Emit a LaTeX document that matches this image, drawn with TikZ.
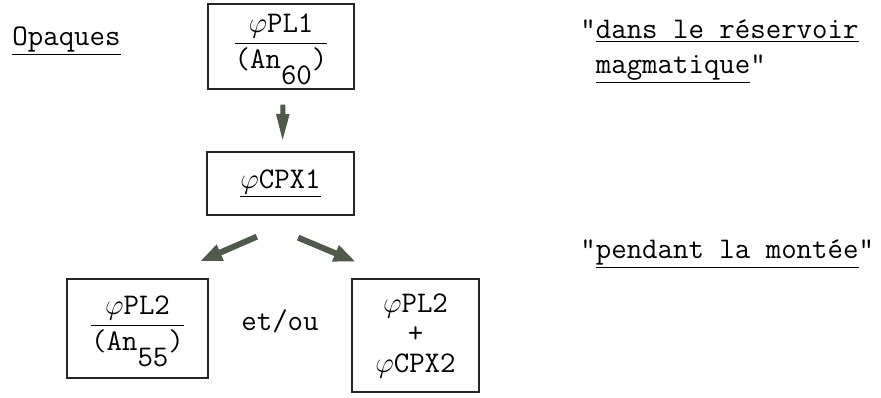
\documentclass[tikz,border=0pt]{standalone}
\usetikzlibrary{arrows.meta}
\definecolor{fgreen}{HTML}{4E5B4A}
\newcommand{\phii}{$\varphi$}

\begin{document}
\begin{tikzpicture}[
    x=0.5pt, y=-0.5pt,
    font=\ttfamily\fontsize{15}{17.5}\selectfont,
    boite/.style={draw=black!85, line width=1pt, inner sep=2pt},
    fleche/.style={draw=fgreen, line width=3pt,
                   -{Triangle[width=8pt,length=11pt]}},
    flechev/.style={draw=fgreen, line width=2.5pt,
                    -{Triangle[width=6pt,length=14pt]}},
    txt/.style={anchor=base west, inner sep=0pt}
]
\useasboundingbox (0,0) rectangle (881,397);

% ---------- boxes ----------
\node[boite, minimum width=73pt, minimum height=41.5pt] (pl1) at (281,46.5)
  {\begin{tabular}{@{}c@{}}\phii PL1\\\hline (An\raisebox{-1.2ex}{60})\end{tabular}};
\node[boite, minimum width=73.5pt, minimum height=31.5pt] (cpx1) at (280.5,183.5)
  {\underline{\phii CPX1}};
\node[boite, minimum width=70.5pt, minimum height=49.5pt] (pl2) at (137.5,328.5)
  {\begin{tabular}{@{}c@{}}\phii PL2\\\hline (An\raisebox{-1.2ex}{55})\end{tabular}};
\node[boite, minimum width=63.5pt, minimum height=56.5pt, align=center,
      font=\ttfamily\fontsize{15}{15}\selectfont] (mix) at (415.5,335.5)
  {\phii PL2\\+\\\phii CPX2};

% ---------- labels ----------
\node[txt] (opaq) at (12,45) {\underline{Opaques}};
\node[anchor=base] (etou) at (280,330) {et/ou};
\node[txt, align=left] (dans) at (580,73)
  {"\underline{dans le r\'eservoir}\\\phantom{"}\underline{magmatique}"};
\node[txt] (montee) at (580,258) {"\underline{pendant la mont\'ee}"};

% ---------- arrows ----------
\draw[flechev, shorten <=7.5pt, shorten >=4.5pt]
  ([xshift=1pt]pl1.south) -- ([xshift=1pt]cpx1.north);
\draw[fleche, shorten <=26pt, shorten >=21pt]
  ([xshift=12pt]cpx1.south) -- ([xshift=12pt]pl2.north);
\draw[fleche, shorten <=28pt, shorten >=21pt]
  ([xshift=-17pt]cpx1.south) -- ([xshift=-10.5pt]mix.north);

\end{tikzpicture}
\end{document}
